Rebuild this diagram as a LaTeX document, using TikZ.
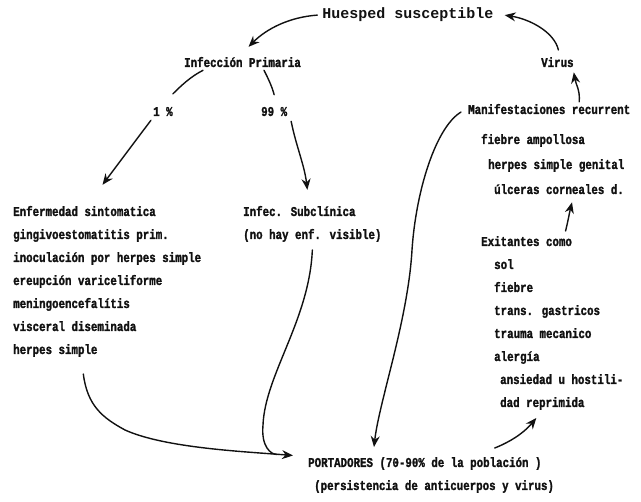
\documentclass[tikz,border=0pt]{standalone}
\usepackage{fontspec}
\usepackage{tikz}
\usetikzlibrary{arrows.meta, calc}
\newfontfamily\typefont[FakeStretch=0.8, BoldFeatures={FakeBold=1.5}]{Liberation Mono}
\newfontfamily\headfont{Liberation Mono}
\definecolor{ink}{HTML}{111111}

\begin{document}
\begin{tikzpicture}[
  x=1pt, y=-1pt,
  every node/.style={color=ink, inner sep=1pt},
  entry/.style={font=\typefont\bfseries\fontsize{13.5}{16}\selectfont, anchor=base west},
  heading/.style={font=\headfont\bfseries\fontsize{15}{18}\selectfont, anchor=base},
  arr/.style={-{Stealth[length=11pt, width=9pt]}, draw=ink, line width=1.4pt, line cap=round},
  link/.style={draw=ink, line width=1.4pt, line cap=round}
]
\useasboundingbox (0,0) rectangle (641,502);

% --- Top of the cycle ---
\node[heading] (hs) at (408,19) {Huesped susceptible};
\node[entry] (ip) at (183,67) {Infección Primaria};
\node[entry] (vi) at (540,67) {Virus};
\node[entry] (p1)  at (152,116) {1 \%};
\node[entry] (p99) at (260,116) {99 \%};

% --- Symptomatic branch (left column) ---
\node[entry] (es1) at (12,216) {Enfermedad sintomatica};
\node[entry] (es2) at (12,239) {gingivoestomatitis prim.};
\node[entry] (es3) at (12,262) {inoculación por herpes simple};
\node[entry] (es4) at (12,285) {ereupción variceliforme};
\node[entry] (es5) at (12,308) {meningoencefalítis};
\node[entry] (es6) at (12,331) {visceral diseminada};
\node[entry] (es7) at (12,354) {herpes simple};

% --- Subclinical branch ---
\node[entry] (sc1) at (242,216) {Infec. Subclínica};
\node[entry] (sc2) at (242,239) {(no hay enf. visible)};

% --- Recurrences (right column) ---
\node[entry] (mr1) at (467,114) {Manifestaciones recurrent};
\node[entry] (mr2) at (480,144) {fiebre ampollosa};
\node[entry] (mr3) at (487,169) {herpes simple genital};
\node[entry] (mr4) at (493,194) {úlceras corneales d.};

\node[entry] (ex1) at (480,246) {Exitantes como};
\node[entry] (ex2) at (493,269) {sol};
\node[entry] (ex3) at (493,292) {fiebre};
\node[entry] (ex4) at (493,315) {trans. gastricos};
\node[entry] (ex5) at (493,338) {trauma mecanico};
\node[entry] (ex6) at (493,361) {alergía};
\node[entry] (ex7) at (499,384) {ansiedad u hostili-};
\node[entry] (ex8) at (499,407) {dad reprimida};

% --- Carriers ---
\node[entry] (pt1) at (307,467) {PORTADORES (70-90\% de la población )};
\node[entry] (pt2) at (313,490) {(persistencia de anticuerpos y virus)};

% --- Cycle arrows ---
\draw[arr] ($(hs.west)+(-4,0)$) .. controls +(-28,2) and +(18,-18) .. ($(ip.north)+(6,-9)$);
\draw[arr] ($(vi.north)+(1,-6)$) .. controls +(-4,-18) and +(25,4) .. ($(hs.east)+(10,0)$);
\draw[arr] ($(mr1.north)+(30,-1)$) .. controls +(1,-12) and +(2,12) .. ($(vi.south east)+(-1,4)$);

% --- Split of the primary infection ---
\draw[link] ($(ip.south west)+(20,2)$) .. controls +(-12,6) and +(8,-8) .. ($(p1.north)+(10,-12)$);
\draw[link] ($(ip.south east)+(-38,2)$) .. controls +(4,8) and +(-2,-8) .. ($(p99.north)+(0,-11)$);
\draw[arr] ($(p1.south)+(-12,3)$) -- ($(es1.north)+(18,-20)$);
\draw[arr] ($(p99.south)+(17,4)$) .. controls +(5,25) and +(-3,-25) .. ($(sc1.north)+(8,-15)$);

% --- Into and out of the carriers ---
\draw[arr] ($(mr1.west)+(-6,3)$) .. controls +(-25,15) and +(4,-60) .. (412,250)
  .. controls +(-4,70) and +(5,-45) .. ($(pt1.north west)+(67,-9)$);
\draw[arr] ($(es7.south)+(28,16)$) .. controls +(4,32) and +(-22,-12) .. (125,430)
  .. controls +(40,18) and +(-50,-4) .. ($(pt1.west)+(-14,-8)$);
\draw[link] ($(sc2.south)+(0,7)$) .. controls +(-3,70) and +(2,-50) .. (263,425)
  .. controls +(-2,22) and +(-6,0) .. ($(pt1.west)+(-30,-9)$);
\draw[arr] ($(pt1.north east)+(-48,-8)$) .. controls +(20,-8) and +(-10,12) .. ($(ex8.south)+(-6,7)$);
\draw[arr] ($(ex1.north)+(39,-4)$) .. controls +(2,-8) and +(-2,8) .. ($(mr4.south)+(13,7)$);

\end{tikzpicture}
\end{document}
